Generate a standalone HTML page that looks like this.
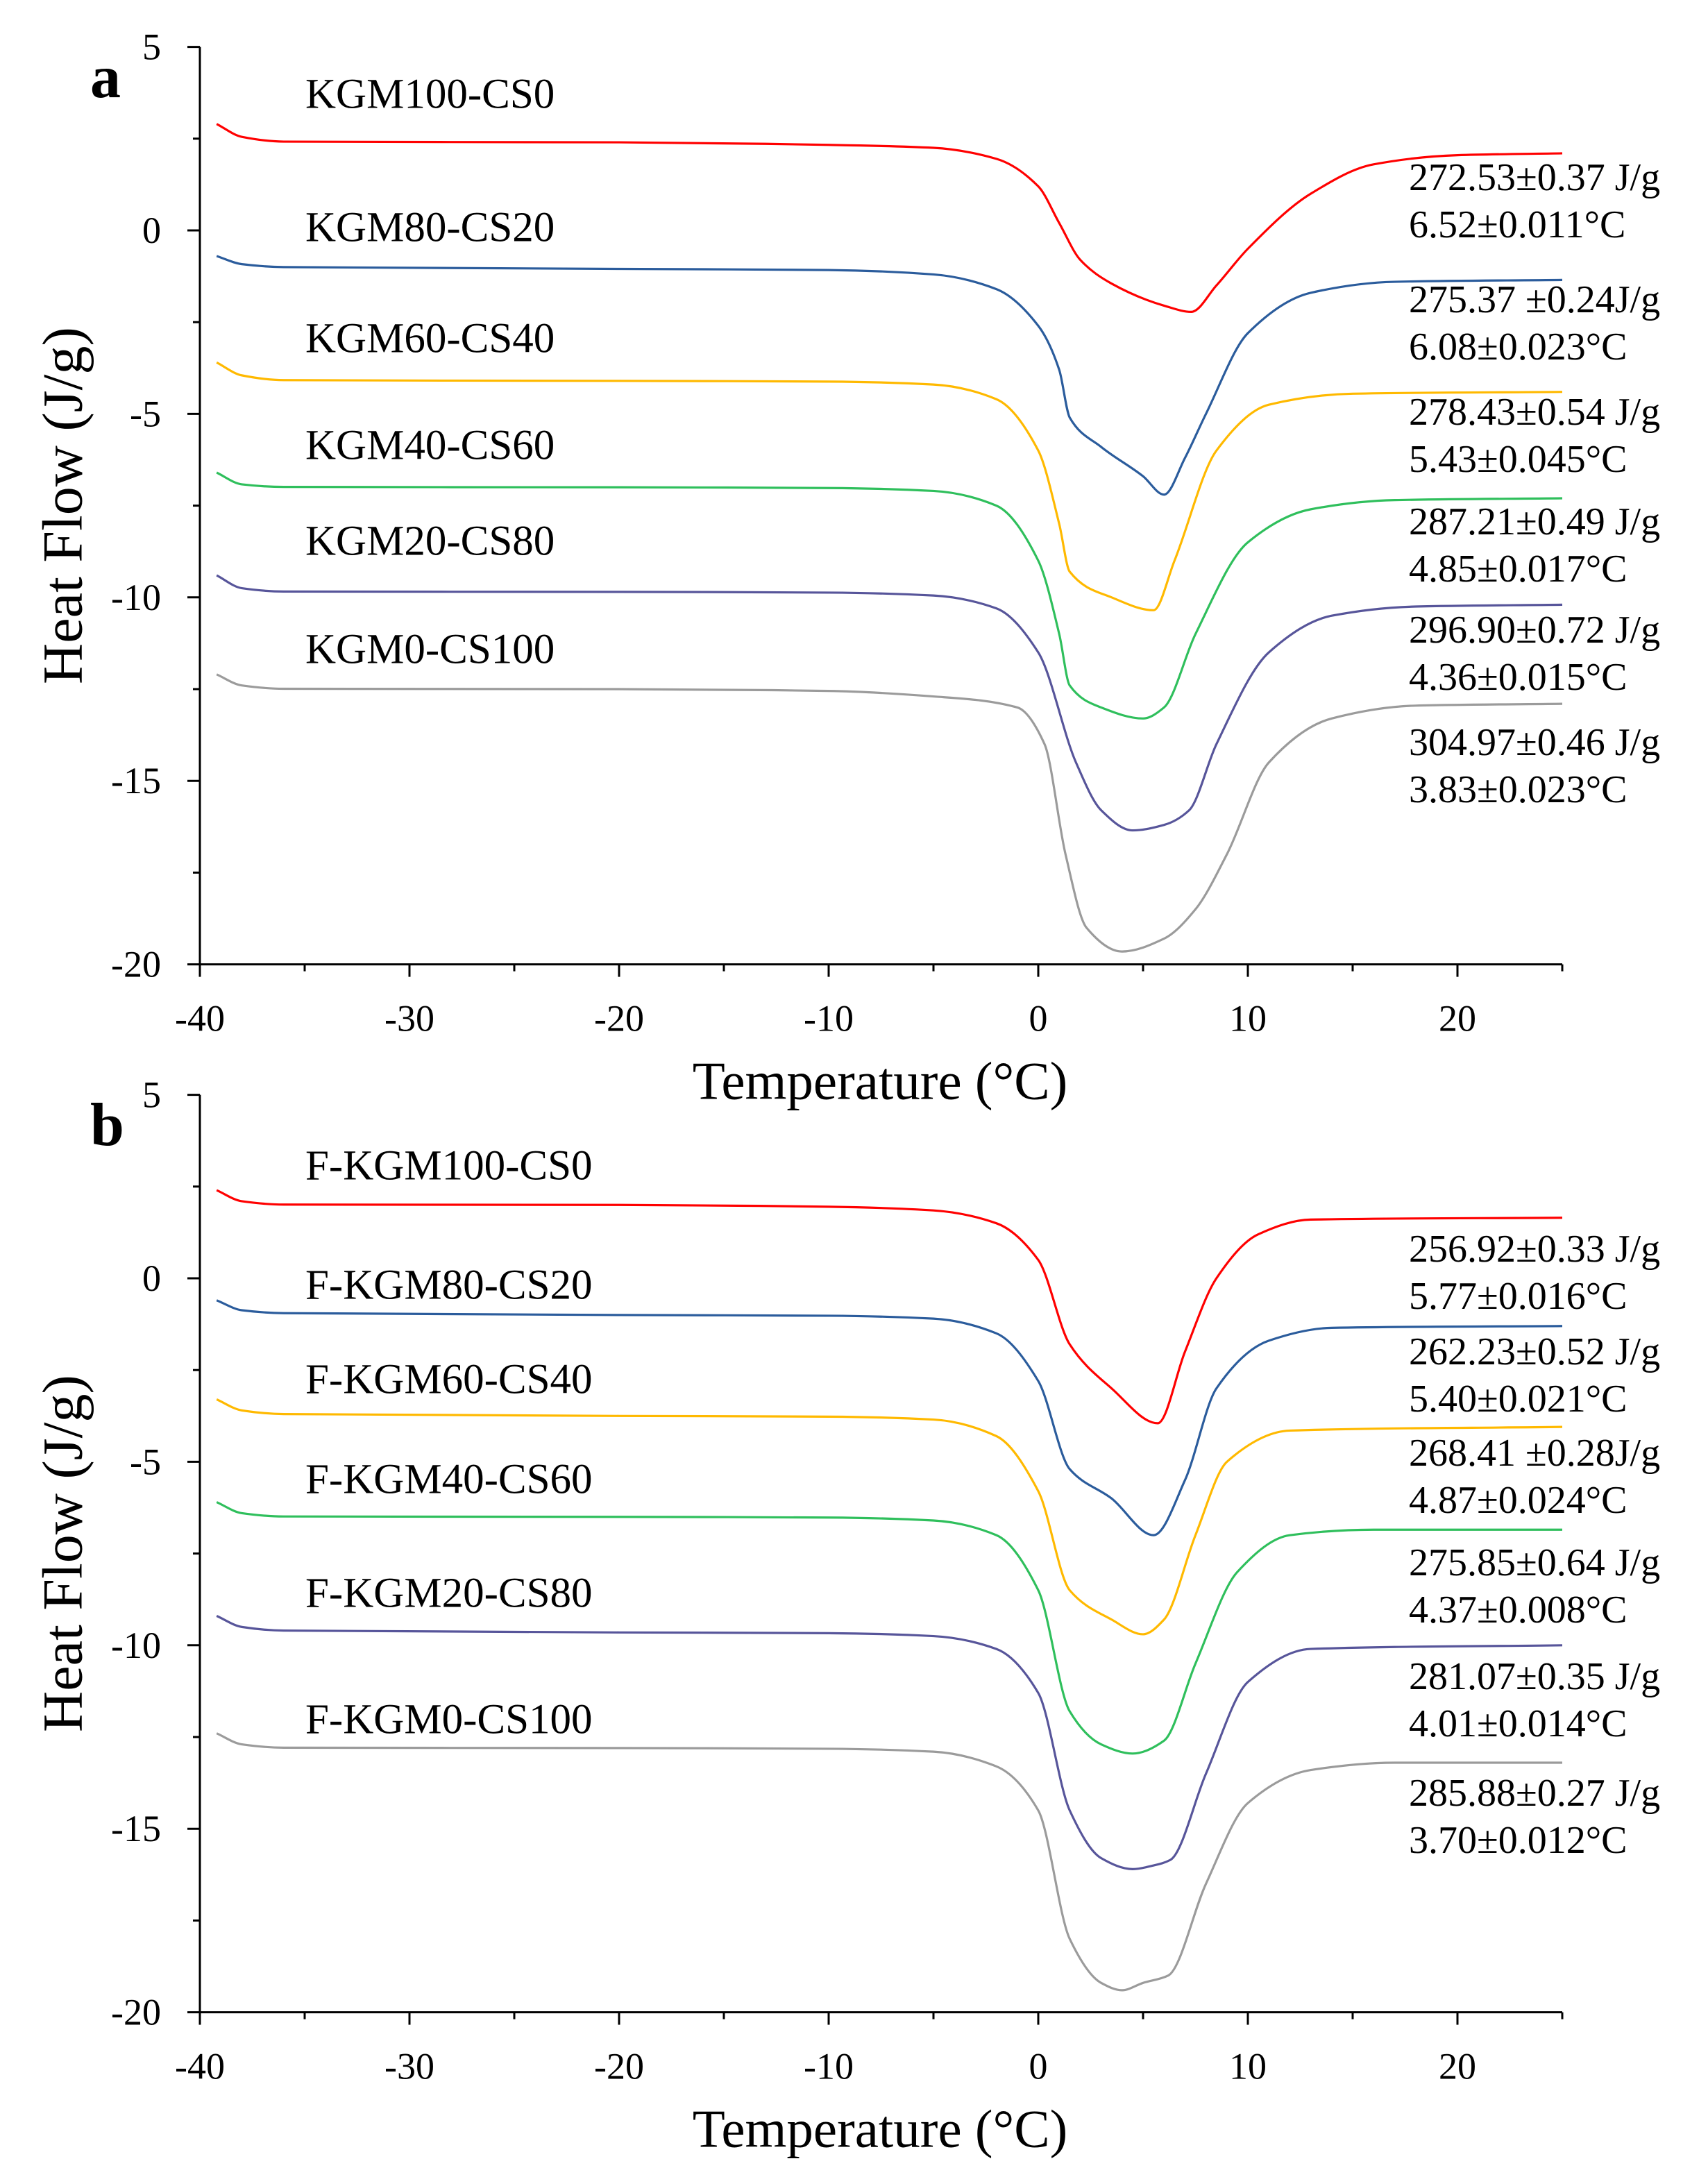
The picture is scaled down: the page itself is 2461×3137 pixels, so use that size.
<!DOCTYPE html>
<html><head><meta charset="utf-8"><style>
html,body{margin:0;padding:0;background:#fff}
svg{display:block}
text{font-family:"Liberation Serif",serif;fill:#000}
</style></head><body>
<svg id="chart" width="2461" height="3137" viewBox="0 0 1230.5 1568.5" xmlns="http://www.w3.org/2000/svg"></svg>
<script>
const xTicks=[-40,-30,-20,-10,0,10,20];
const yTicks=[5,0,-5,-10,-15,-20];
const colors=["#ff0000","#2b5c9c","#ffb900","#2fbf5c","#57559a","#9b9b9b"];
const namesA=["KGM100-CS0","KGM80-CS20","KGM60-CS40","KGM40-CS60","KGM20-CS80","KGM0-CS100"];
const namesB=["F-KGM100-CS0","F-KGM80-CS20","F-KGM60-CS40","F-KGM40-CS60","F-KGM20-CS80","F-KGM0-CS100"];
const annA=[["272.53±0.37 J/g","6.52±0.011°C"],["275.37 ±0.24J/g","6.08±0.023°C"],["278.43±0.54 J/g","5.43±0.045°C"],["287.21±0.49 J/g","4.85±0.017°C"],["296.90±0.72 J/g","4.36±0.015°C"],["304.97±0.46 J/g","3.83±0.023°C"]];
const annB=[["256.92±0.33 J/g","5.77±0.016°C"],["262.23±0.52 J/g","5.40±0.021°C"],["268.41 ±0.28J/g","4.87±0.024°C"],["275.85±0.64 J/g","4.37±0.008°C"],["281.07±0.35 J/g","4.01±0.014°C"],["285.88±0.27 J/g","3.70±0.012°C"]];
const seriesA=[
[[-39.2,2.9],[-38,2.55],[-36,2.42],[-20,2.4],[-10,2.33],[-5,2.25],[-2,1.95],[0,1.2],[1,0.2],[2,-0.8],[3.5,-1.45],[6,-2.05],[7.3,-2.22],[8.5,-1.5],[10,-0.5],[13,1.0],[16,1.8],[20,2.05],[25,2.1]],
[[-39.2,-0.7],[-38,-0.92],[-36,-1.0],[-20,-1.05],[-10,-1.08],[-5,-1.2],[-2,-1.6],[0,-2.6],[1,-3.8],[1.5,-5.1],[3,-5.9],[5,-6.7],[6,-7.2],[7,-6.2],[8,-5.0],[10,-2.8],[13,-1.7],[17,-1.4],[25,-1.35]],
[[-39.2,-3.6],[-38,-3.95],[-36,-4.08],[-20,-4.1],[-10,-4.12],[-5,-4.2],[-2,-4.6],[0,-6.0],[1,-8.0],[1.5,-9.3],[3.5,-10.0],[5.5,-10.35],[6.5,-9.0],[8.5,-6.0],[11,-4.75],[15,-4.45],[25,-4.4]],
[[-39.2,-6.6],[-38,-6.92],[-36,-6.99],[-20,-7.0],[-10,-7.02],[-5,-7.1],[-2,-7.5],[0,-9.0],[1,-11.0],[1.5,-12.4],[3,-13.0],[5,-13.3],[6,-13.0],[7.5,-11.0],[10,-8.5],[13,-7.6],[17,-7.35],[25,-7.3]],
[[-39.2,-9.4],[-38,-9.75],[-36,-9.84],[-20,-9.85],[-10,-9.87],[-5,-9.95],[-2,-10.3],[0,-11.5],[1.8,-14.5],[3,-15.8],[4.5,-16.35],[6,-16.2],[7.2,-15.8],[8.5,-14.0],[11,-11.5],[14,-10.5],[18,-10.25],[25,-10.2]],
[[-39.2,-12.1],[-38,-12.4],[-36,-12.49],[-20,-12.5],[-10,-12.55],[-5,-12.7],[-1,-13.0],[0.3,-14.0],[1.3,-17.0],[2.3,-19.0],[4,-19.65],[6,-19.3],[7.5,-18.5],[9,-17.0],[11,-14.5],[14,-13.3],[18,-12.95],[25,-12.9]]];
const seriesB=[
[[-39.2,2.4],[-38,2.1],[-36,2.01],[-20,2.0],[-10,1.95],[-5,1.85],[-2,1.5],[0,0.5],[1.5,-1.8],[3.5,-3.0],[5.7,-3.95],[7,-2.0],[8.5,0.0],[10.5,1.2],[13,1.6],[25,1.65]],
[[-39.2,-0.6],[-38,-0.87],[-36,-0.95],[-20,-1.0],[-10,-1.02],[-5,-1.1],[-2,-1.5],[0,-2.8],[1.5,-5.2],[3.5,-6.0],[5.5,-7.0],[7,-5.5],[8.5,-3.0],[11,-1.7],[14,-1.35],[25,-1.3]],
[[-39.2,-3.3],[-38,-3.6],[-36,-3.7],[-20,-3.75],[-10,-3.77],[-5,-3.85],[-2,-4.3],[0,-5.8],[1.5,-8.5],[3.5,-9.3],[5,-9.7],[6,-9.3],[7.5,-7.0],[9,-5.0],[12,-4.15],[25,-4.05]],
[[-39.2,-6.1],[-38,-6.4],[-36,-6.49],[-20,-6.5],[-10,-6.52],[-5,-6.6],[-2,-7.0],[0,-8.5],[1.5,-11.8],[3,-12.7],[4.5,-12.95],[6,-12.6],[7.5,-10.5],[9.5,-8.0],[12,-7.0],[16,-6.85],[25,-6.85]],
[[-39.2,-9.2],[-38,-9.5],[-36,-9.6],[-20,-9.65],[-10,-9.67],[-5,-9.75],[-2,-10.1],[0,-11.3],[1.5,-14.5],[3,-15.8],[4.5,-16.1],[5.5,-16.0],[6.3,-15.85],[8,-13.5],[10,-11.0],[13,-10.1],[25,-10.0]],
[[-39.2,-12.4],[-38,-12.7],[-36,-12.79],[-20,-12.8],[-10,-12.82],[-5,-12.9],[-2,-13.3],[0,-14.5],[1.5,-18.0],[3,-19.2],[4,-19.4],[5,-19.2],[6.2,-19.0],[8,-16.5],[10,-14.3],[13,-13.4],[17,-13.2],[25,-13.2]]];
const labelYA=[68,164,244,321,390,468];
const labelYB=[840,926,994,1066,1148,1239];
const annYA=[128,216,297,376,454,535];
const annYB=[900,974,1047,1126,1208,1292];

const NS="http://www.w3.org/2000/svg";
const svg=document.getElementById('chart');
function mk(tag,attrs,parent){const e=document.createElementNS(NS,tag);for(const k in attrs)e.setAttribute(k,attrs[k]);(parent||svg).appendChild(e);return e;}
function pathFrom(p){
 const n=p.length,d=[],m=new Array(n);
 for(let i=0;i<n-1;i++)d.push((p[i+1][1]-p[i][1])/(p[i+1][0]-p[i][0]));
 m[0]=d[0];m[n-1]=d[n-2];
 for(let i=1;i<n-1;i++){if(d[i-1]*d[i]<=0)m[i]=0;else{const h0=p[i][0]-p[i-1][0],h1=p[i+1][0]-p[i][0];m[i]=3*(h0+h1)/((2*h1+h0)/d[i-1]+(h1+2*h0)/d[i]);}}
 let s="M"+p[0][0].toFixed(2)+","+p[0][1].toFixed(2);
 for(let i=0;i<n-1;i++){const h=p[i+1][0]-p[i][0];
  s+=" C"+(p[i][0]+h/3).toFixed(2)+","+(p[i][1]+m[i]*h/3).toFixed(2)+" "+(p[i+1][0]-h/3).toFixed(2)+","+(p[i+1][1]-m[i+1]*h/3).toFixed(2)+" "+p[i+1][0].toFixed(2)+","+p[i+1][1].toFixed(2);}
 return s;}
function panel(id,letter,y0,series,names,ann,labelY,annY){
 const g=mk('g',{});
 
 
 const X=t=>748+(t)*15.1;
 const Y=v=>y0-v*26.44;
 const left=X(-40), right=X(25), bottom=Y(-20), top=Y(5);
 series.forEach((s,i)=>{
  const p=mk('path',{d:pathFrom(s.map(q=>[X(q[0]),Y(q[1])])),fill:'none',stroke:colors[i],'stroke-width':1.6},g);
  
  
  const l=mk('text',{x:220,y:labelY[i],'font-size':30.5,'dominant-baseline':'central'},g);l.textContent=names[i];
  
  
  ann[i].forEach((t,j)=>{const a=mk('text',{x:1015,y:annY[i]+j*34,'font-size':28,'dominant-baseline':'central'},g);a.textContent=t;
   
   });
 });
 const ax=mk('path',{d:`M${left},${top} V${bottom} H${right}`,fill:'none',stroke:'#000','stroke-width':1.5},g);
 
 
 for(let t=-40;t<=25;t+=5){const maj=t%10===0;mk('line',{x1:X(t),x2:X(t),y1:bottom,y2:bottom+(maj?9:5),stroke:'#000','stroke-width':1.5},g);}
 xTicks.forEach(t=>{const e=mk('text',{x:X(t),y:bottom+39,'font-size':27,'text-anchor':'middle','dominant-baseline':'central'},g);e.textContent=t;
  
  });
 for(let v=5;v>=-20;v-=2.5){const maj=v%5===0;mk('line',{x1:left,x2:left-(maj?9:5),y1:Y(v),y2:Y(v),stroke:'#000','stroke-width':1.5},g);}
 yTicks.forEach(v=>{const e=mk('text',{x:116,y:Y(v),'font-size':27,'text-anchor':'end','dominant-baseline':'central'},g);e.textContent=v;
  
  });
 const xt=mk('text',{x:634,y:bottom+84,'font-size':38.5,'text-anchor':'middle','dominant-baseline':'central'},g);xt.textContent="Temperature (°C)";
 
 
 const yc=(top+bottom)/2;
 const yt=mk('text',{x:45,y:yc,'font-size':41,'text-anchor':'middle','dominant-baseline':'central',transform:`rotate(-90 45 ${yc})`},g);yt.textContent="Heat Flow (J/g)";
 
 
 const lt=mk('text',{x:65,y:top+22,'font-size':44,'font-weight':'bold','dominant-baseline':'central'},g);lt.textContent=letter;
 
 
}
panel('a','a',166,seriesA,namesA,annA,labelYA,annYA);
panel('b','b',921,seriesB,namesB,annB,labelYB,annYB);
</script>
</body></html>
